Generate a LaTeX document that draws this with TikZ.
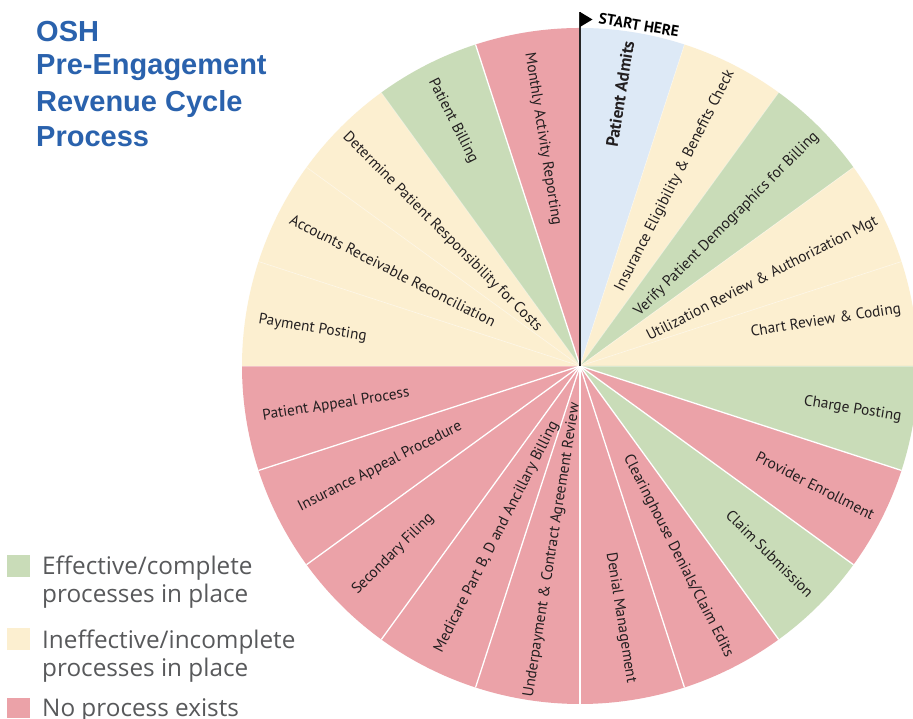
\documentclass[tikz,border=0pt]{standalone}
\usepackage{fontspec}
\setmainfont{PT Sans}
\newfontfamily\titlefont{Liberation Sans}
\newfontfamily\legendfont{Open Sans}
\definecolor{pred}{HTML}{EBA2A8}
\definecolor{pgreen}{HTML}{C9DCB8}
\definecolor{pyel}{HTML}{FCEFD0}
\definecolor{pblue}{HTML}{DDE9F6}
\definecolor{titleblue}{HTML}{2A62AD}
\definecolor{legtext}{HTML}{58595B}
\definecolor{labeltext}{HTML}{231F20}
\begin{document}
\begin{tikzpicture}[x=1pt,y=1pt,
  lbl/.style={font=\fontsize{15.3}{17}\selectfont, text=labeltext, inner sep=0pt},
  ttl/.style={font=\titlefont\bfseries\fontsize{29}{35}\selectfont, text=titleblue, inner sep=0pt, anchor=base west},
  leg/.style={font=\legendfont\fontsize{24.3}{28}\selectfont, text=legtext, inner sep=0pt, anchor=base west},
  sep/.style={white, line width=1.3pt},
  faintsep/.style={white, opacity=0.35, line width=0.8pt}]
\useasboundingbox (0,0) rectangle (913,719);
\fill[white] (0,0) rectangle (913,719);
\coordinate (C) at (580,353);
% sectors
\foreach \col [count=\i from 0] in {pblue,pyel,pgreen,pyel,pyel,pgreen,pred,pgreen,pred,pred,pred,pred,pred,pred,pred,pyel,pyel,pyel,pgreen,pred} {
  \pgfmathsetmacro\aS{90-18*\i}
  \pgfmathsetmacro\aE{72-18*\i}
  \fill[\col] (C) -- ++(\aS:338) arc[start angle=\aS, end angle=\aE, radius=338] -- cycle;
}
% separators
\foreach \a in {72,54,36,18,0,180,162,144,126} {
  \draw[faintsep] (C) -- ++(\a:338);
}
\foreach \a in {-18,-36,-54,-72,-90,-108,-126,-144,-162,108} {
  \draw[sep] (C) -- ++(\a:338);
}
% flag
\coordinate (poletop) at (580,707);
\draw[black!85, line width=2.4pt] (C) -- (poletop);
\fill[black] (poletop) -- (592.5,699.5) -- (580,692) -- cycle;
\node[font=\bfseries\fontsize{15.3}{17}\selectfont, text=black, rotate=-9.5, inner sep=0pt] (start) at ([shift={(80.2:346)}]C) {START HERE};
% labels
\node[lbl, font=\bfseries\fontsize{17}{19}\selectfont, rotate=81] (l0) at ([shift={(81.6:275)}]C) {Patient Admits};
\node[lbl, rotate=63] (l1) at ([shift={(62.8:208)}]C) {Insurance Eligibility \& Benefits Check};
\node[lbl, rotate=45] (l2) at ([shift={(44:204)}]C) {Verify Patient Demographics for Billing};
\node[lbl, rotate=27] (l3) at ([shift={(25.5:202)}]C) {Utilization Review \& Authorization Mgt};
\node[lbl, rotate=9] (l4) at ([shift={(10.4:250)}]C) {Chart Review \& Coding};
\node[lbl, rotate=-9] (l5) at ([shift={(-9:276)}]C) {Charge Posting};
\node[lbl, rotate=-27] (l6) at ([shift={(-27:264)}]C) {Provider Enrollment};
\node[lbl, rotate=-45] (l7) at ([shift={(-44.7:267)}]C) {Claim Submission};
\node[lbl, rotate=-63] (l8) at ([shift={(-62.7:214)}]C) {Clearinghouse Denials/Claim Edits};
\node[lbl, rotate=-81] (l9) at ([shift={(-80.8:255)}]C) {Denial Management};
\node[lbl, rotate=81] (l10) at ([shift={(-98.6:186)}]C) {Underpayment \& Contract Agreement Review};
\node[lbl, rotate=63] (l11) at ([shift={(-116:190)}]C) {Medicare Part B, D and Ancillary Billing};
\node[lbl, rotate=45] (l12) at ([shift={(-134.8:265)}]C) {Secondary Filing};
\node[lbl, rotate=27] (l13) at ([shift={(-153.2:224)}]C) {Insurance Appeal Procedure};
\node[lbl, rotate=9] (l14) at ([shift={(-171:247)}]C) {Patient Appeal Process};
\node[lbl, rotate=-9] (l15) at ([shift={(172:270)}]C) {Payment Posting};
\node[lbl, rotate=-27] (l16) at ([shift={(153:210)}]C) {Accounts Receivable Reconciliation};
\node[lbl, rotate=-45] (l17) at ([shift={(135.8:192)}]C) {Determine Patient Responsibility for Costs};
\node[lbl, rotate=-63] (l18) at ([shift={(117.4:276)}]C) {Patient Billing};
\node[lbl, rotate=-81] (l19) at ([shift={(99.3:230)}]C) {Monthly Activity Reporting};
% title
\node[ttl] (t1) at (36,677.3) {OSH};
\node[ttl] (t2) at (36,644) {Pre-Engagement};
\node[ttl] (t3) at (36,607.3) {Revenue Cycle};
\node[ttl] (t4) at (36,572.3) {Process};
% legend
\fill[pgreen] (7,142) rectangle (30,164);
\fill[pyel] (7,69) rectangle (30,91);
\fill[pred] (7,1) rectangle (30,21);
\node[leg] (g1) at (42,144) {Effective/complete};
\node[leg] (g2) at (42,116) {processes in place};
\node[leg] (g3) at (42,70) {Ineffective/incomplete};
\node[leg] (g4) at (42,42) {processes in place};
\node[leg] (g5) at (42,2.5) {No process exists};
\end{tikzpicture}
\end{document}
